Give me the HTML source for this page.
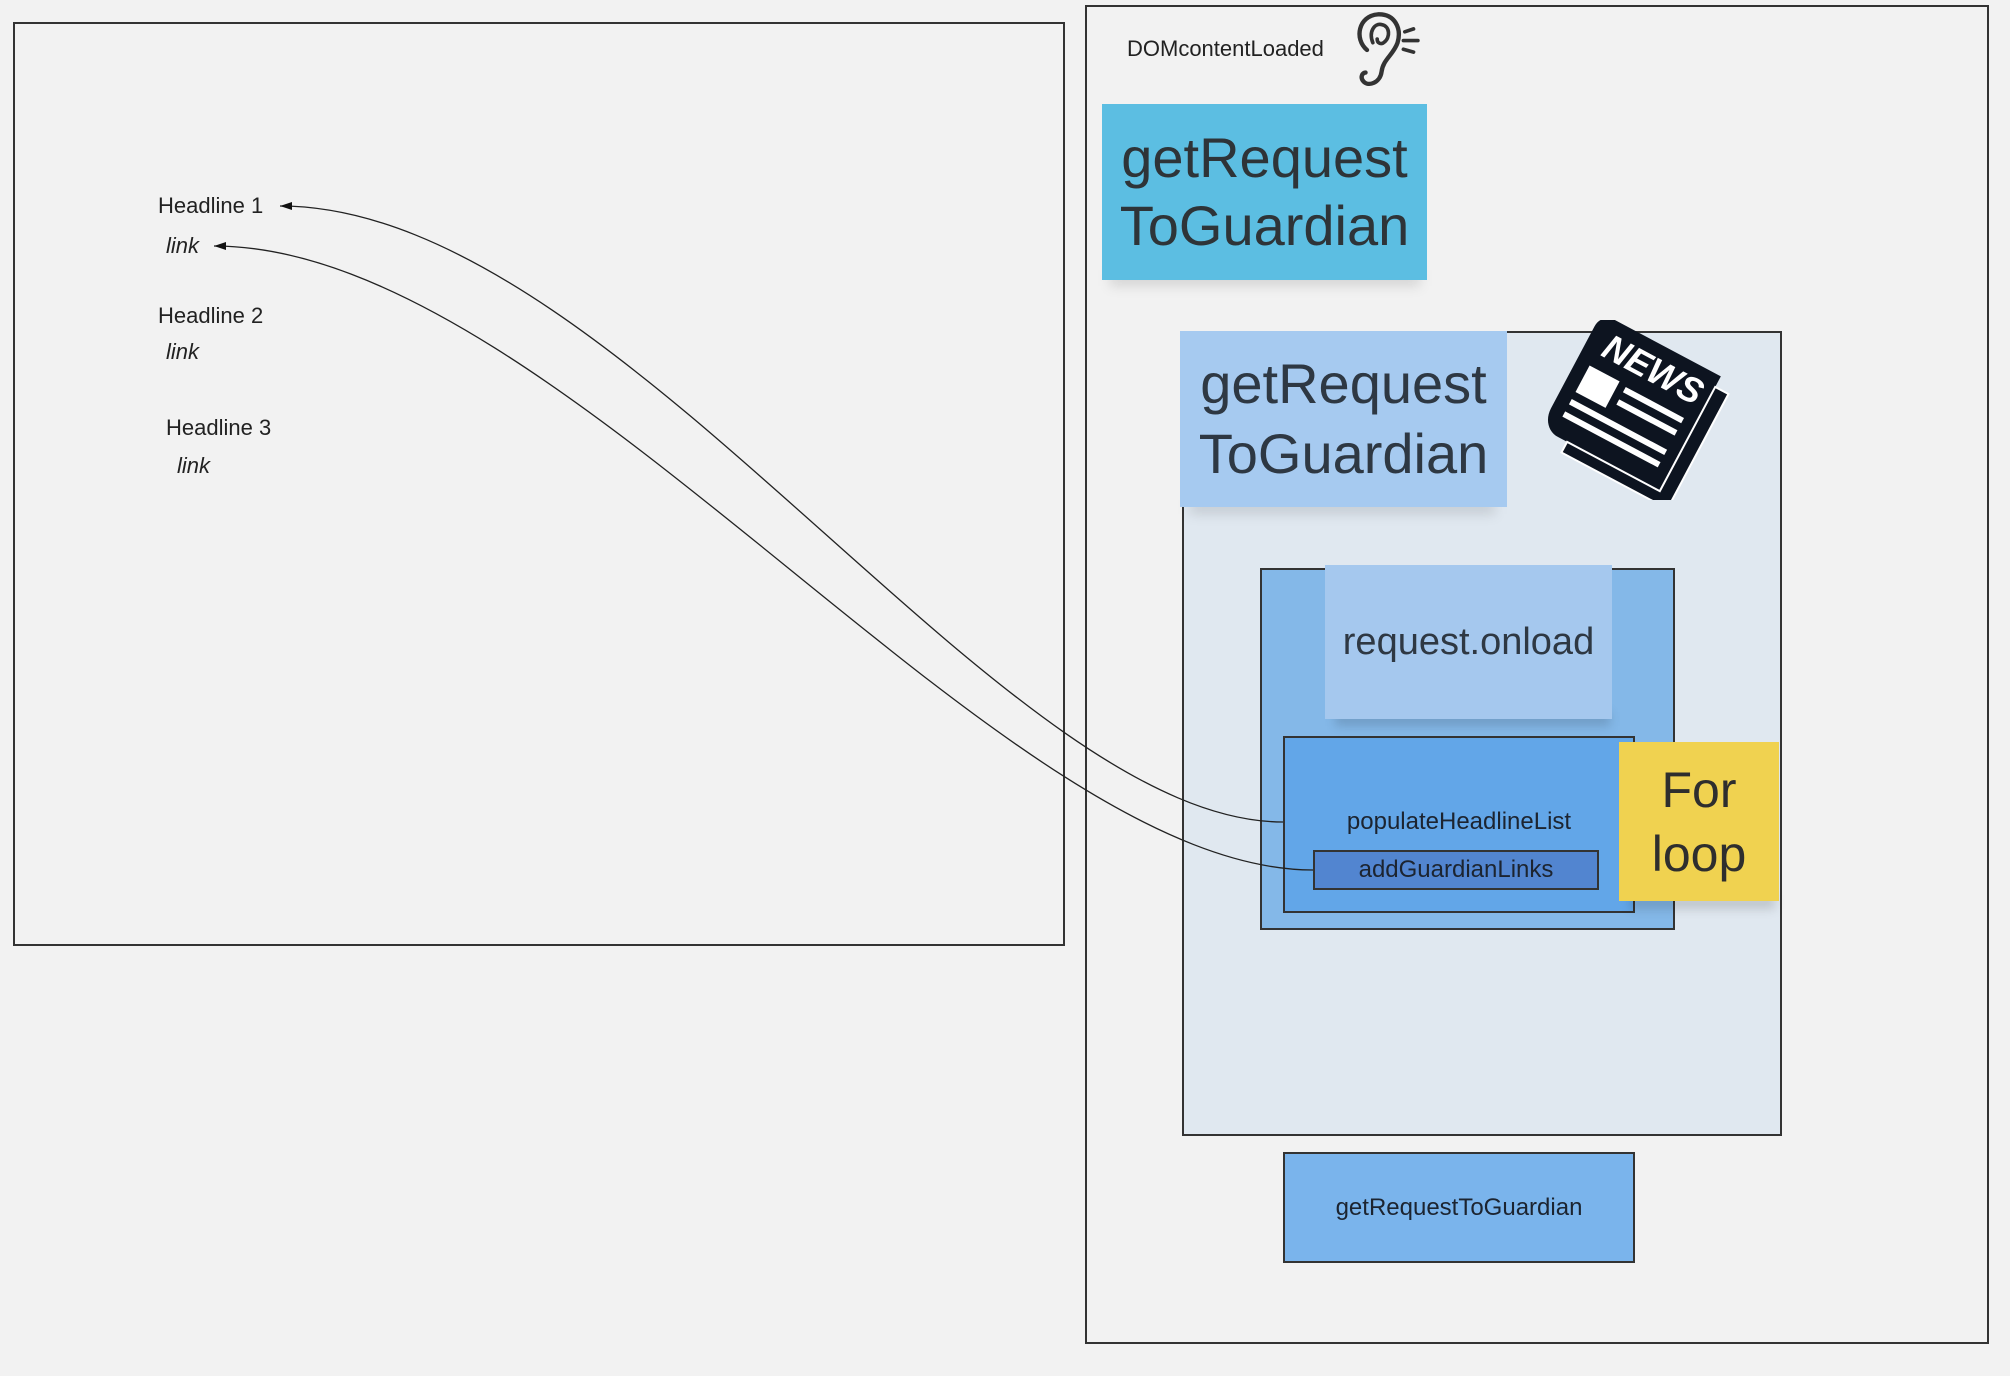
<!DOCTYPE html>
<html><head><meta charset="utf-8"><style>
html,body{margin:0;padding:0;}
body{width:2010px;height:1376px;background:#f2f2f2;position:relative;overflow:hidden;font-family:"Liberation Sans","DejaVu Sans",sans-serif;color:#222;}
.a{position:absolute;box-sizing:border-box;}
.t{position:absolute;white-space:nowrap;}
.c{display:flex;align-items:center;justify-content:center;text-align:center;}
</style></head><body>
<div class="a" style="left:13px;top:22px;width:1052px;height:924px;border:2px solid #333;"></div>
<div class="a" style="left:1085px;top:5px;width:904px;height:1339px;border:2px solid #333;"></div>

<div class="t" style="left:158px;top:193px;font-size:22px;">Headline 1</div>
<div class="t" style="left:166px;top:233px;font-size:22px;font-style:italic;">link</div>
<div class="t" style="left:158px;top:303px;font-size:22px;">Headline 2</div>
<div class="t" style="left:166px;top:339px;font-size:22px;font-style:italic;">link</div>
<div class="t" style="left:166px;top:415px;font-size:22px;">Headline 3</div>
<div class="t" style="left:177px;top:453px;font-size:22px;font-style:italic;">link</div>

<div class="t" style="left:1127px;top:36px;font-size:22px;">DOMcontentLoaded</div>
<svg class="a" style="left:1342px;top:10px" width="90" height="80" viewBox="0 0 95 110">
<path d="M20 55 C2 40 8 8 35 6 C58 5 68 25 62 45 C56 62 42 68 40 85 C38 100 22 106 15 98 C10 92 14 86 18 86" fill="none" stroke="#333" stroke-width="6" stroke-linecap="round"/>
<path d="M28 45 C22 30 30 18 40 20 C52 22 52 38 44 44 C40 48 34 46 34 40" fill="none" stroke="#333" stroke-width="5" stroke-linecap="round"/>
<path d="M72 30 L84 26 M70 42 L90 42 M70 54 L84 58" stroke="#333" stroke-width="5" stroke-linecap="round"/>
</svg>

<div class="a" style="left:1110px;top:270px;width:310px;height:16px;background:rgba(0,0,0,0.12);filter:blur(6px);"></div>
<div class="a c" style="left:1102px;top:104px;width:325px;height:176px;background:#5cbee2;font-size:56px;line-height:68px;color:#2e3438;">getRequest<br>ToGuardian</div>

<div class="a" style="left:1182px;top:331px;width:600px;height:805px;border:2px solid #333;background:#e0e8f0;"></div>
<div class="a" style="left:1190px;top:500px;width:305px;height:14px;background:rgba(0,0,0,0.12);filter:blur(6px);"></div>
<div class="a c" style="left:1180px;top:331px;width:327px;height:176px;background:#a6caf0;font-size:56px;line-height:70px;color:#2e3843;">getRequest<br>ToGuardian</div>

<svg class="a" style="left:1540px;top:320px" width="190" height="180" viewBox="0 0 190 180">
<g transform="rotate(28 95 90)">
<path d="M35 20 L155 20 L155 150 L40 150 C28 150 20 140 20 128 L20 35 C20 25 28 20 35 20 Z" fill="#0d1420"/>
<path d="M155 32 L170 32 L170 162 L50 162 L50 150 L155 150 Z" fill="#0d1420" stroke="#fff" stroke-width="2"/>
<text x="92" y="58" text-anchor="middle" font-family="Liberation Sans, sans-serif" font-weight="bold" font-style="italic" font-size="36" fill="#fff">NEWS</text>
<rect x="34" y="72" width="34" height="30" fill="#fff"/>
<rect x="76" y="74" width="66" height="6" fill="#fff"/>
<rect x="76" y="88" width="66" height="6" fill="#fff"/>
<rect x="34" y="110" width="108" height="6" fill="#fff"/>
<rect x="34" y="124" width="108" height="6" fill="#fff"/>
</g>
</svg>

<div class="a" style="left:1260px;top:568px;width:415px;height:362px;border:2px solid #333;background:#84b8e8;"></div>
<div class="a" style="left:1335px;top:712px;width:275px;height:14px;background:rgba(0,0,0,0.15);filter:blur(5px);"></div>
<div class="a c" style="left:1325px;top:565px;width:287px;height:154px;background:#a5c8ee;font-size:38px;color:#2e3843;">request.onload</div>

<div class="a" style="left:1283px;top:736px;width:352px;height:177px;border:2px solid #333;background:#62a6e8;"></div>
<div class="t" style="left:1283px;top:808px;width:352px;text-align:center;font-size:24px;color:#1c2430;">populateHeadlineList</div>
<div class="a c" style="left:1313px;top:850px;width:286px;height:40px;border:2px solid #333;background:#5285d0;font-size:24px;color:#1c2430;">addGuardianLinks</div>

<div class="a" style="left:1630px;top:895px;width:145px;height:14px;background:rgba(0,0,0,0.15);filter:blur(5px);"></div>
<div class="a c" style="left:1619px;top:742px;width:160px;height:159px;background:#f0d250;font-size:50px;line-height:64px;color:#2e2e2e;">For<br>loop</div>

<div class="a c" style="left:1283px;top:1152px;width:352px;height:111px;border:2px solid #333;background:#7ab4ec;font-size:24px;color:#1c2430;">getRequestToGuardian</div>

<svg class="a" style="left:0;top:0" width="2010" height="1376">
<defs><marker id="ah" markerWidth="12" markerHeight="8" refX="12" refY="4" orient="auto" markerUnits="userSpaceOnUse"><path d="M0 0 L12 4 L0 8 Z" fill="#111"/></marker></defs>
<path d="M1283 822 C 1000 822, 620 206, 280 206" fill="none" stroke="#222" stroke-width="1.3" marker-end="url(#ah)"/>
<path d="M1313 870 C 1000 870, 560 246, 214 246" fill="none" stroke="#222" stroke-width="1.3" marker-end="url(#ah)"/>
</svg>
</body></html>
